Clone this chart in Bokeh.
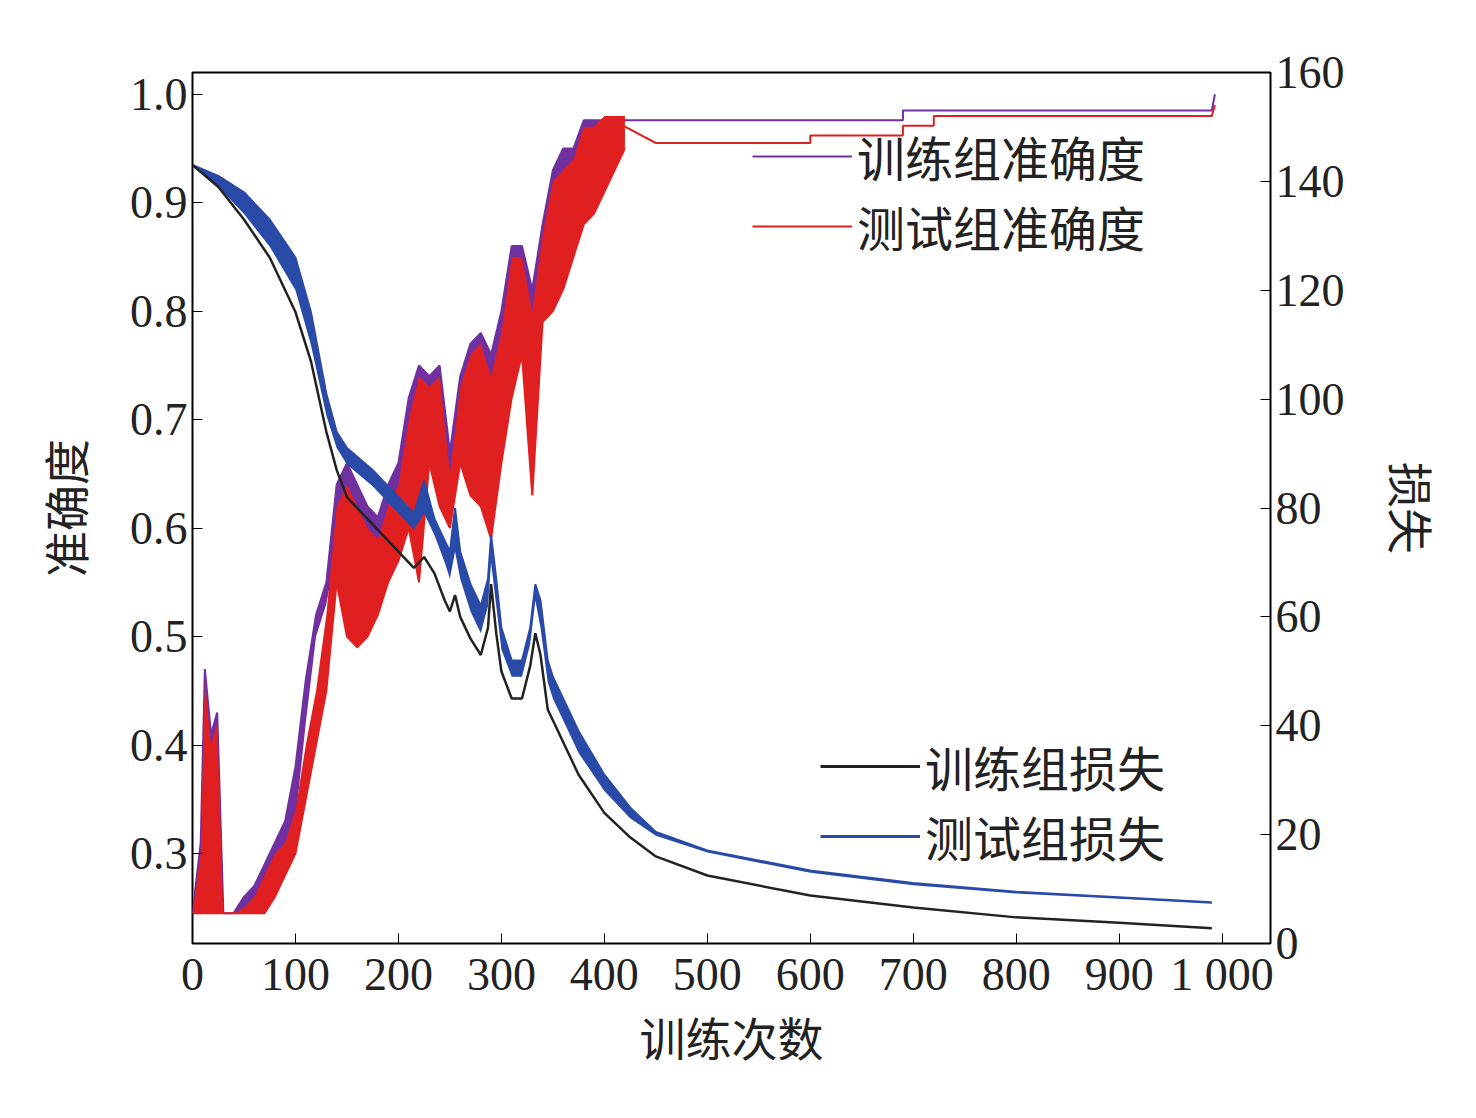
from bokeh.plotting import figure
from bokeh.models import Range1d, LinearAxis, Legend, LegendItem, FixedTicker, CustomJSTickFormatter
from bokeh.embed import file_html
from bokeh.resources import INLINE

# accuracy (noisy phase): x, lower, upper
acc_x = [0,8,12,18,24,30,40,50,60,70,80,90,100,110,120,130,140,150,160,170,180,190,200,210,220,230,240,250,260,270,280,290,300,310,320,330,340,350,360,370,380,390,400,410,420]
test_acc_lo = [.245,.245,.245,.245,.245,.245,.245,.245,.245,.245,.26,.28,.30,.35,.40,.45,.55,.50,.49,.50,.52,.55,.57,.60,.55,.66,.62,.60,.66,.63,.62,.59,.66,.72,.76,.63,.79,.80,.82,.85,.88,.89,.91,.93,.95]
test_acc_hi = [.245,.30,.46,.40,.42,.245,.245,.25,.26,.28,.30,.31,.34,.40,.45,.52,.62,.64,.62,.60,.59,.62,.64,.70,.74,.73,.74,.65,.73,.76,.77,.74,.78,.85,.85,.80,.87,.92,.93,.94,.97,.97,.98,.98,.98]
train_acc_lo = [.245,.245,.245,.245,.245,.245,.245,.245,.245,.25,.27,.29,.33,.42,.50,.53,.58,.55,.52,.53,.55,.57,.60,.63,.60,.68,.64,.62,.68,.66,.64,.62,.69,.74,.78,.66,.82,.84,.86,.89,.92,.93,.95,.96,.976]
train_acc_hi = [.245,.31,.47,.41,.43,.245,.245,.26,.27,.29,.31,.33,.38,.46,.52,.55,.64,.66,.64,.62,.61,.64,.66,.72,.75,.74,.75,.67,.74,.77,.78,.76,.80,.86,.86,.82,.88,.93,.95,.95,.976,.976,.976,.976,.976]
# accuracy (stable phase)
test_acc_x2 = [420,450,600,600,690,690,720,720,990,993]
test_acc_y2 = [.97,.955,.955,.962,.962,.971,.971,.98,.98,.99]
train_acc_x2 = [420,690,690,990,993]
train_acc_y2 = [.976,.976,.985,.985,1.0]

# loss
loss_x = [0,25,50,75,100,115,130,140,150,175,200,215,225,235,245,250,255,260,270,280,287,290,295,300,310,320,328,333,338,345,350,375,400,425,450,500,600,700,800,900,990]
train_loss = [143,139,133,126,116,107,94,87,82,77,72,69,71,68,63,61,64,60,56,53,58,66,57,50,45,45,51,57,53,43,41,31,24,19.5,16,12.5,8.8,6.6,4.8,3.8,2.8]
test_loss_lo = [143,139,134,128,120,110,97,91,88,84,79,76,79,75,70,67,72,67,61,57,62,70,62,54,49,49,55,63,58,48,45,35,28,23,19.8,16.7,13,10.7,9.2,8.2,7.3]
test_loss_hi = [143,141,138,133,126,116,101,94,91,87,82,79,85,78,74,72,80,72,66,62,67,75,67,58,52,52,58,66,63,52,49,39,31,25,20.5,17.1,13.4,11.1,9.5,8.5,7.6]

SERIF = "Liberation Serif"
CJK = "Noto Sans CJK SC"

p = figure(width=1460, height=1100, output_backend="svg", toolbar_location=None,
           x_range=Range1d(0, 1047), y_range=Range1d(0.217, 1.02),
           min_border_left=192, min_border_right=190, min_border_top=72, min_border_bottom=157)
p.grid.visible = False
p.outline_line_color = "black"
p.outline_line_width = 2
p.extra_y_ranges = {"loss": Range1d(0, 160)}

purple, red, black, blue = "#7030a0", "#e02020", "#222222", "#2a4aa8"

p.varea(acc_x, train_acc_lo, train_acc_hi, color=purple)
p.line(acc_x, train_acc_hi, color=purple, line_width=2)
p.line(train_acc_x2, train_acc_y2, color=purple, line_width=2)
p.varea(acc_x, test_acc_lo, test_acc_hi, color=red)
p.line(acc_x, test_acc_lo, color=red, line_width=2)
p.line(test_acc_x2, test_acc_y2, color=red, line_width=2)

p.varea(loss_x, test_loss_lo, test_loss_hi, color=blue, y_range_name="loss")
p.line(loss_x, test_loss_hi, color=blue, line_width=2, y_range_name="loss")
p.line(loss_x, train_loss, color=black, line_width=2.5, y_range_name="loss")

def style(ax):
    ax.major_label_text_font = SERIF
    ax.major_label_text_font_size = "46px"
    ax.major_label_text_color = "#222222"
    ax.axis_line_color = None
    ax.major_tick_in = 10
    ax.major_tick_out = 0
    ax.minor_tick_line_color = None
    ax.axis_label_text_font = CJK
    ax.axis_label_text_font_size = "46px"
    ax.axis_label_text_font_style = "normal"
    ax.axis_label_text_color = "#222222"

p.xaxis.ticker = FixedTicker(ticks=list(range(0, 1001, 100)))
p.xaxis.formatter = CustomJSTickFormatter(code="return tick == 1000 ? '1 000' : tick.toString();")
p.xaxis.axis_label = "训练次数"
p.xaxis.axis_label_standoff = 0
p.yaxis.ticker = FixedTicker(ticks=[0.3, 0.4, 0.5, 0.6, 0.7, 0.8, 0.9, 1.0])
p.yaxis.formatter = CustomJSTickFormatter(code="return tick.toFixed(1);")
p.yaxis.axis_label = "准确度"
p.yaxis.axis_label_standoff = 30
r_ax = LinearAxis(y_range_name="loss", ticker=FixedTicker(ticks=list(range(0, 161, 20))), axis_label="损失",
                  axis_label_standoff=32)
p.add_layout(r_ax, "right")
for ax in [p.xaxis[0], p.yaxis[0], r_ax]:
    style(ax)

rp = p.line([0], [0.5], color=purple, line_width=2, visible=False)
rr = p.line([0], [0.5], color=red, line_width=2, visible=False)
rk = p.line([0], [0.5], color=black, line_width=3, visible=False)
rb = p.line([0], [0.5], color=blue, line_width=3, visible=False)
for items, loc in [([("训练组准确度", rp), ("测试组准确度", rr)], (560, 682)),
                   ([("训练组损失", rk), ("测试组损失", rb)], (628, 72))]:
    lg = Legend(items=[LegendItem(label=t, renderers=[r]) for t, r in items], location=loc,
                border_line_color=None, background_fill_alpha=0,
                label_text_font=CJK, label_text_font_size="48px", label_text_color="#222222",
                glyph_width=100, spacing=0, padding=0, label_height=54, glyph_height=54)
    p.add_layout(lg)

open("out.html", "w").write(file_html(p, INLINE))
